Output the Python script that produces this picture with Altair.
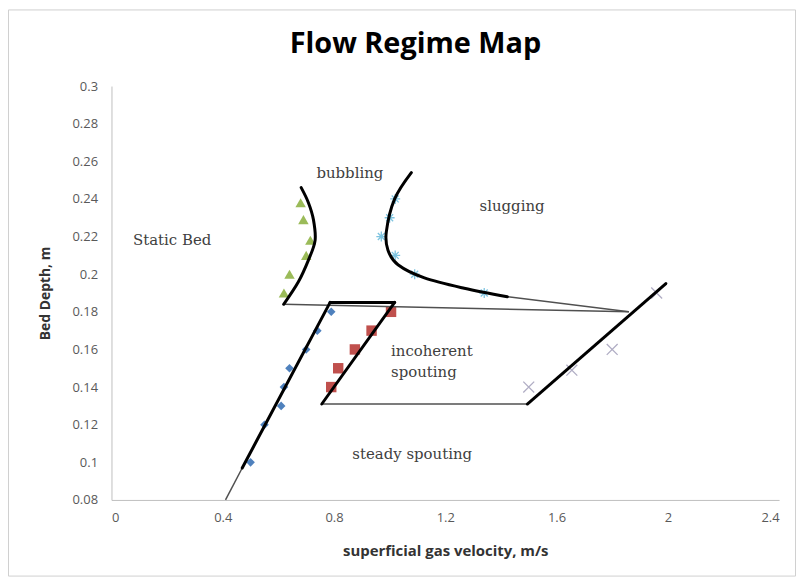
import altair as alt
import pandas as pd

# ---- marker series ----
blue_x = [0.50, 0.55, 0.61, 0.62, 0.64, 0.70, 0.74, 0.79]
blue_y = [0.10, 0.12, 0.13, 0.14, 0.15, 0.16, 0.17, 0.18]
red_x = [0.79, 0.815, 0.875, 0.935, 1.005]
red_y = [0.14, 0.15, 0.16, 0.17, 0.18]
green_x = [0.62, 0.64, 0.70, 0.715, 0.69, 0.68]
green_y = [0.19, 0.20, 0.21, 0.218, 0.229, 0.238]
sky_x = [1.02, 1.00, 0.97, 1.02, 1.09, 1.34]
sky_y = [0.24, 0.23, 0.22, 0.21, 0.20, 0.19]
gray_x = [1.50, 1.655, 1.80, 1.96]
gray_y = [0.14, 0.149, 0.16, 0.19]

# ---- regime boundaries ----
bubbling_x = [0.619, 0.672, 0.708, 0.732, 0.726, 0.708, 0.682]
bubbling_y = [0.184, 0.196, 0.2075, 0.218, 0.229, 0.238, 0.246]
slug_x = [1.078, 1.018, 0.988, 0.994, 1.03, 1.125, 1.268, 1.423]
slug_y = [0.254, 0.24, 0.2225, 0.2127, 0.205, 0.198, 0.1925, 0.188]
minspout_x = [0.47, 0.786]
minspout_y = [0.097, 0.185]
top_x = [0.786, 1.018]
top_y = [0.185, 0.185]
incoh_x = [0.756, 1.018]
incoh_y = [0.131, 0.185]
right_x = [1.495, 1.993]
right_y = [0.131, 0.195]
ext_x = [0.41, 0.47]
ext_y = [0.08, 0.097]
bottom_x = [0.756, 1.495]
bottom_y = [0.131, 0.131]
upper_x = [0.619, 1.86]
upper_y = [0.184, 0.18]
slugtail_x = [1.423, 1.86]
slugtail_y = [0.188, 0.18]

# ---- region labels ----
label_text = ["bubbling", "slugging", "Static Bed"]
label_x = [0.857, 1.44, 0.218]
label_y = [0.254, 0.236, 0.218]
left_text = ["incoherent", "spouting", "steady spouting"]
left_x = [1.005, 1.005, 0.866]
left_y = [0.1593, 0.148, 0.1043]

chart_title = "Flow Regime Map"
x_title = "superficial gas velocity, m/s"
y_title = "Bed Depth, m"
x_ticks = [0, 0.4, 0.8, 1.2, 1.6, 2, 2.4]
y_ticks = [0.08, 0.1, 0.12, 0.14, 0.16, 0.18, 0.2, 0.22, 0.24, 0.26, 0.28, 0.3]


def pts(xs, ys):
    return pd.DataFrame({"x": xs, "y": ys})


def segs(pairs):
    rows = []
    for k, (xs, ys) in enumerate(pairs):
        for i, (a, b) in enumerate(zip(xs, ys)):
            rows.append({"seg": k, "i": i, "x": a, "y": b})
    return pd.DataFrame(rows)


W, H = 671, 416
PL, PT, PR, PB = 104, 77, 18, 78

xs = alt.Scale(domain=[0, 2.4], nice=False, zero=False)
ys = alt.Scale(domain=[0.08, 0.3], nice=False, zero=False)

xax = alt.Axis(values=x_ticks, format="~g", title=x_title, titleFontSize=15,
               titleX=W / 2, titleY=51, titleBaseline="middle", labelPadding=12)
yax = alt.Axis(values=y_ticks, format="~g", title=y_title, titleFontSize=14,
               titleX=-66, titleY=H / 2, titleBaseline="middle", labelPadding=14)

X = alt.X("x:Q", scale=xs, axis=xax)
Y = alt.Y("y:Q", scale=ys, axis=yax)

one = pd.DataFrame({"t": [chart_title]})

border = alt.Chart(one).mark_rect(
    fill=None, stroke="#d0d0d0", strokeWidth=1
).encode(
    x=alt.value(-PL + 0.5), x2=alt.value(W + PR - 1.5),
    y=alt.value(-PT + 0.5), y2=alt.value(H + PB - 1.5)
)

title = alt.Chart(one).mark_text(
    font="Open Sans", fontSize=29, fontWeight="bold", color="black",
    align="center", baseline="middle"
).encode(x=alt.value(W / 2 - 30), y=alt.value(-42), text="t:N")

diam = alt.Chart(pts(blue_x, blue_y)).mark_point(
    shape="diamond", filled=True, size=75, color="#4f81bd", opacity=1
).encode(x=X, y=Y)
sq = alt.Chart(pts(red_x, red_y)).mark_point(
    shape="square", filled=True, size=110, color="#c0504d", opacity=1
).encode(x=X, y=Y)
tri = alt.Chart(pts(green_x, green_y)).mark_point(
    shape="triangle-up", filled=True, size=110, color="#9bbb59", opacity=1
).encode(x=X, y=Y)
ast = alt.Chart(pts(sky_x, sky_y)).mark_point(
    shape="M-1,0L1,0M0,-1L0,1M-0.7,-0.7L0.7,0.7M-0.7,0.7L0.7,-0.7",
    filled=False, size=100, color="#7ec4e0", strokeWidth=1.3, opacity=1
).encode(x=X, y=Y)
crs = alt.Chart(pts(gray_x, gray_y)).mark_point(
    shape="M-1,-1L1,1M-1,1L1,-1",
    filled=False, size=120, color="#b0adc4", strokeWidth=1.3, opacity=1
).encode(x=X, y=Y)

thick = alt.Chart(segs([
    (bubbling_x, bubbling_y), (slug_x, slug_y), (minspout_x, minspout_y),
    (top_x, top_y), (incoh_x, incoh_y), (right_x, right_y)
])).mark_line(color="black", strokeWidth=3, interpolate="cardinal", strokeCap="round").encode(
    x=X, y=Y, detail="seg:N", order="i:Q")

thin = alt.Chart(segs([
    (ext_x, ext_y), (bottom_x, bottom_y), (upper_x, upper_y), (slugtail_x, slugtail_y)
])).mark_line(color="#505050", strokeWidth=1.5).encode(
    x=X, y=Y, detail="seg:N", order="i:Q")

lab_c = alt.Chart(pd.DataFrame({"x": label_x, "y": label_y, "t": label_text})).mark_text(
    font="DejaVu Serif", fontSize=15, color="#404040", align="center", baseline="middle"
).encode(x=X, y=Y, text="t:N")
lab_l = alt.Chart(pd.DataFrame({"x": left_x, "y": left_y, "t": left_text})).mark_text(
    font="DejaVu Serif", fontSize=15, color="#404040", align="left", baseline="middle"
).encode(x=X, y=Y, text="t:N")

chart = alt.layer(border, title, diam, sq, tri, ast, crs, thin, thick, lab_c, lab_l).properties(
    width=W, height=H,
    padding={"left": PL, "top": PT, "right": PR, "bottom": PB},
    autosize=alt.AutoSizeParams(type="none"),
    background="white",
).configure_view(stroke=None).configure_axis(
    grid=False, ticks=False, domainColor="#bfbfbf", domainWidth=1,
    labelFont="Open Sans", labelFontSize=13, labelColor="#595959",
    titleFont="Open Sans", titleFontWeight="bold", titleColor="#333333",
)

chart.save("out.html", embed_options={"renderer": "svg", "actions": False})
